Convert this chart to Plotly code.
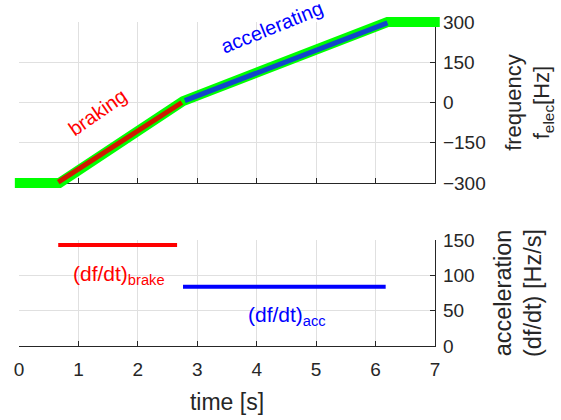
import plotly.graph_objects as go

# ---- data ----
freq_t = [-0.07, 0.68, 2.76, 6.2, 7.08]
freq_f = [-300, -300, 5, 300, 300]

brake_t = [0.66, 2.74]
brake_f = [-297, 0]
acc_t = [2.79, 6.2]
acc_f = [7, 297]

brake_rate_t = [0.66, 2.66]
brake_rate = [143, 143]
acc_rate_t = [2.76, 6.17]
acc_rate = [84, 84]

freq_ticks = [-300, -150, 0, 150, 300]
acc_ticks = [0, 50, 100, 150]
time_ticks = [0, 1, 2, 3, 4, 5, 6, 7]

# ---- layout geometry (pixels) ----
W, H = 561, 420
ML, MR, MT, MB = 5, 110, 5, 60
PW, PH = W - ML - MR, H - MT - MB

def xd(px):
    return (px - ML) / PW

def yd(py):
    return (H - MB - py) / PH

X0, X1 = 19, 435          # screen x pixel of t=0 and t=7
TOP_Y0, TOP_Y1 = 183, 22  # -300, 300
BOT_Y0, BOT_Y1 = 346, 240 # 0, 150

FONT = "Liberation Sans, Arial, sans-serif"
TXT = "#262626"
GRID = "#e0e0e0"

fig = go.Figure()

# green measured frequency on an overlay axis (not clipped at plot edges)
pad_l, pad_r, pad_b, pad_t = 10, 10, 8, 10
tpp = 7 / (X1 - X0)
fpp = 600 / (TOP_Y0 - TOP_Y1)
fig.add_trace(go.Scatter(x=freq_t, y=freq_f, mode="lines",
                         line=dict(color="#00ff00", width=10),
                         xaxis="x3", yaxis="y3", showlegend=False, hoverinfo="skip"))
fig.add_trace(go.Scatter(x=brake_t, y=brake_f, mode="lines",
                         line=dict(color="rgba(230,0,0,0.9)", width=5),
                         xaxis="x3", yaxis="y3", showlegend=False))
fig.add_trace(go.Scatter(x=acc_t, y=acc_f, mode="lines",
                         line=dict(color="rgba(20,50,225,0.9)", width=5),
                         xaxis="x3", yaxis="y3", showlegend=False))

fig.add_trace(go.Scatter(x=brake_rate_t, y=brake_rate, mode="lines",
                         line=dict(color="#ff0000", width=4),
                         xaxis="x2", yaxis="y2", showlegend=False))
fig.add_trace(go.Scatter(x=acc_rate_t, y=acc_rate, mode="lines",
                         line=dict(color="#0000ff", width=4),
                         xaxis="x2", yaxis="y2", showlegend=False))

common_x = dict(range=[0, 7], tickvals=time_ticks, showgrid=True, gridcolor=GRID,
                zeroline=False, showline=True, linecolor=TXT, linewidth=1.3,
                ticks="inside", ticklen=5, tickcolor=TXT, automargin=False,
                ticklabelstandoff=6,
                tickfont=dict(family=FONT, size=19, color=TXT))
common_y = dict(side="right", showgrid=True, gridcolor=GRID, zeroline=False,
                showline=True, linecolor=TXT, linewidth=1.3, automargin=False,
                ticks="inside", ticklen=5, tickcolor=TXT, ticklabelstandoff=3,
                tickfont=dict(family=FONT, size=19, color=TXT))

fig.update_layout(
    width=W, height=H,
    margin=dict(l=ML, r=MR, t=MT, b=MB, autoexpand=False),
    plot_bgcolor="rgba(0,0,0,0)", paper_bgcolor="white",
    showlegend=False,
    xaxis=dict(common_x, domain=[xd(X0), xd(X1)], anchor="y", showticklabels=False),
    yaxis=dict(common_y, domain=[yd(TOP_Y0), yd(TOP_Y1)], anchor="x",
               range=[-300, 300], tickvals=freq_ticks,
               title=dict(text="frequency<br>f<sub>elec</sub>[Hz]",
                          font=dict(family=FONT, size=22, color=TXT), standoff=20)),
    xaxis2=dict(common_x, domain=[xd(X0), xd(X1)], anchor="y2",
                title=dict(text="time [s]", font=dict(family=FONT, size=23, color=TXT),
                           standoff=14)),
    yaxis2=dict(common_y, domain=[yd(BOT_Y0), yd(BOT_Y1)], anchor="x2",
                range=[0, 150], tickvals=acc_ticks,
                title=dict(text="acceleration<br>(df/dt) [Hz/s]",
                           font=dict(family=FONT, size=23.5, color=TXT), standoff=20)),
    xaxis3=dict(domain=[xd(X0 - pad_l), xd(X1 + pad_r)], anchor="y3",
                range=[-pad_l * tpp, 7 + pad_r * tpp], visible=False),
    yaxis3=dict(domain=[yd(TOP_Y0 + pad_b), yd(TOP_Y1 - pad_t)], anchor="x3",
                range=[-300 - pad_b * fpp, 300 + pad_t * fpp], visible=False),
)

fig.add_annotation(x=1.33, y=-37, xref="x", yref="y", text="braking", showarrow=False,
                   textangle=-35, font=dict(family=FONT, size=20, color="#ff0000"))
fig.add_annotation(x=4.26, y=281, xref="x", yref="y", text="accelerating", showarrow=False,
                   textangle=-22, font=dict(family=FONT, size=20, color="#0000ff"))
fig.add_annotation(x=1.68, y=100, xref="x2", yref="y2",
                   text="(df/dt)<sub>brake</sub>", showarrow=False,
                   font=dict(family=FONT, size=21, color="#ff0000"))
fig.add_annotation(x=4.51, y=42, xref="x2", yref="y2",
                   text="(df/dt)<sub>acc</sub>", showarrow=False,
                   font=dict(family=FONT, size=21, color="#0000ff"))

fig.write_html("out.html", config={"displayModeBar": False},
               post_script="document.body.style.margin='0';")
